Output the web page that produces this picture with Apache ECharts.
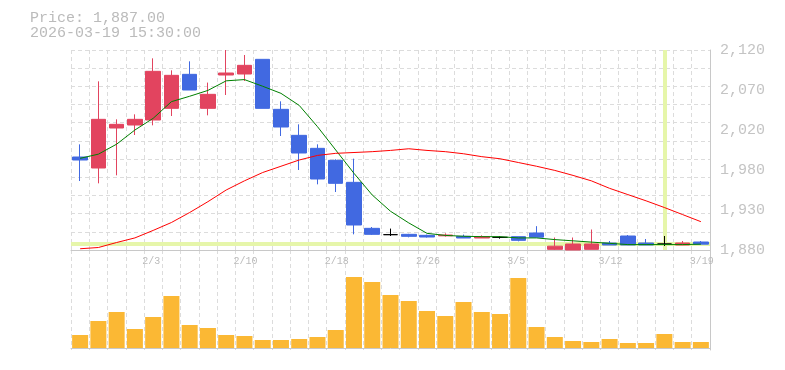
<!DOCTYPE html>
<html>
<head>
<meta charset="utf-8">
<script src="https://cdn.jsdelivr.net/npm/echarts@6/dist/echarts.min.js"></script>
<style>
html,body{margin:0;padding:0;background:#fff;}
#chart{width:785px;height:370px;}
</style>
</head>
<body>
<div id="chart"></div>
<script>
const dates = ['1/28','1/29','1/30','2/2','2/3','2/4','2/5','2/6','2/9','2/10','2/12','2/13','2/16','2/17','2/18','2/19','2/20','2/24','2/25','2/26','2/27','3/2','3/3','3/4','3/5','3/6','3/9','3/10','3/11','3/12','3/13','3/16','3/17','3/18','3/19'];
const openP  = [1991.6,1978.4,2026.4,2030,2036,2050,2090.8,2050,2090,2091.2,2108.8,2048.8,2017.6,2002,1987.6,1961.2,1906,1898.4,1898.8,1897.6,1897,1896.4,1894.4,1895.2,1896,1900.4,1880.8,1880,1880.8,1888.4,1896.8,1888.4,1887.2,1886,1889.6];
const closeP = [1988,2036.8,2030.8,2036.8,2094.4,2089.6,2072,2066.8,2092.4,2101.6,2050,2027.6,1996.4,1965.2,1960,1910,1898.8,1898.4,1896.4,1895.6,1898,1894.4,1896,1895.2,1891.6,1895.4,1884.6,1887.2,1887.2,1886,1886,1886,1887.2,1888.4,1887];
const highP  = [2006.8,2082.4,2036.8,2042.8,2110,2095.6,2106.4,2080.9,2120,2114,2108.8,2058.4,2030.8,2006.8,1988.8,1989.6,1907.6,1905.7,1899.4,1898.5,1900,1898.5,1897.6,1896.4,1896,1908.6,1895,1895,1904.6,1890.8,1898,1893.2,1896.8,1890.8,1890.8];
const lowP   = [1962.8,1960,1969.6,2018,2029.6,2040.8,2072,2041.6,2066,2082.8,2050,2016.8,1976,1958.8,1949.6,1898.8,1898,1896.8,1895.2,1895,1896,1894.4,1894.4,1893.6,1890.4,1895.4,1880,1880,1880.8,1886,1886,1886,1884.8,1886,1887];
const maShort = [1990,1995,2007,2024,2038,2058,2064.5,2071.5,2083,2084.5,2076.5,2068,2053.5,2028,2000,1972,1946,1926.5,1912.5,1900,1897.5,1896.5,1896,1896,1894.5,1894.5,1892.5,1891,1889.5,1888,1886.5,1886.5,1886.5,1886.5,1887];
const maLong  = [1881.5,1883,1889,1894.5,1903.5,1913,1925,1938,1952,1963,1973,1980.5,1988,1993.5,1996,1997,1998,1999.5,2001.5,1999.5,1998,1995.5,1992,1989.5,1985,1980.5,1975.5,1969.5,1963,1954,1946.5,1939,1931,1922.5,1914];
const volume  = [130,270,360,190,310,520,230,200,130,120,80,80,90,110,180,710,660,530,470,370,320,460,360,340,700,210,110,70,60,90,50,50,140,60,60];
const priceNow = 1887;
const markDate = '3/17';
const titleLines = ['Price: 1,887.00', '2026-03-19 15:30:00'];

const candleData = dates.map((d, i) => [openP[i], closeP[i], lowP[i], highP[i]]);

function fmtPrice(v) {
  const r = Math.round(v / 10) * 10;
  return String(r).replace(/\B(?=(\d{3})+(?!\d))/g, ',');
}

const gridLine = { show: true, lineStyle: { color: '#dcdcdc', type: [4, 3], width: 1 } };
const axisGray = '#c8c8c8';
const mono = 'Liberation Mono';

const chart = echarts.init(document.getElementById('chart'), null, { renderer: 'canvas' });
chart.setOption({
  animation: false,
  backgroundColor: '#fff',
  title: {
    text: titleLines.join('\n'),
    left: 30, top: 11, padding: 0,
    textStyle: { fontFamily: mono, fontSize: 15, fontWeight: 'normal', color: '#bbbbbb', lineHeight: 15 }
  },
  grid: [
    { left: 71, right: 75, top: 50, height: 200 },
    { left: 71, right: 75, top: 250, height: 100 }
  ],
  xAxis: [
    {
      type: 'category', gridIndex: 0, data: dates, boundaryGap: true,
      axisLine: { show: true, lineStyle: { color: axisGray } },
      axisTick: { show: false },
      splitLine: Object.assign({ interval: 0 }, gridLine),
      axisLabel: {
        interval: (idx) => idx % 5 === 4,
        fontFamily: mono, fontSize: 10, color: '#bbbbbb', margin: 6,
        align: 'left', padding: [0, 0, 0, -11]
      }
    },
    {
      type: 'category', gridIndex: 1, data: dates, boundaryGap: true,
      axisLine: { show: true, lineStyle: { color: axisGray } },
      axisTick: { show: false },
      axisLabel: { show: false },
      splitLine: Object.assign({ interval: 0 }, gridLine)
    }
  ],
  yAxis: [
    {
      type: 'value', gridIndex: 0, position: 'right', min: 1880, max: 2120, interval: 48,
      axisLine: { show: true, lineStyle: { color: axisGray } },
      axisTick: { show: false },
      splitLine: { show: false },
      axisLabel: { formatter: fmtPrice, fontFamily: mono, fontSize: 15, color: '#c4c4c4', margin: 10, padding: [4, 0, 0, 0] }
    },
    {
      type: 'value', gridIndex: 0, min: 0, max: 11, interval: 1,
      axisLine: { show: false }, axisTick: { show: false }, axisLabel: { show: false },
      splitLine: gridLine
    },
    {
      type: 'value', gridIndex: 1, position: 'right', min: -20, max: 980,
      axisLine: { show: true, lineStyle: { color: axisGray } },
      axisTick: { show: false }, axisLabel: { show: false }, splitLine: { show: false }
    }
  ],
  series: [
    {
      name: 'marks', type: 'line', xAxisIndex: 0, yAxisIndex: 0, data: [], z: 1,
      markLine: {
        z: 1, silent: true, symbol: ['none', 'none'], label: { show: false },
        lineStyle: { color: '#e6f6aa', width: 4, type: 'solid' },
        data: [ { yAxis: priceNow }, { xAxis: markDate } ]
      }
    },
    {
      name: 'candles', type: 'candlestick', xAxisIndex: 0, yAxisIndex: 0, data: candleData, z: 3,
      barWidth: 15,
      itemStyle: {
        color: '#e2445f', color0: '#4169e1',
        borderColor: '#e2445f', borderColor0: '#4169e1', borderColorDoji: '#000000', borderWidth: 1
      }
    },
    {
      name: 'maShort', type: 'line', xAxisIndex: 0, yAxisIndex: 0, data: maShort, z: 4,
      symbol: 'none', lineStyle: { color: '#008000', width: 1 }
    },
    {
      name: 'maLong', type: 'line', xAxisIndex: 0, yAxisIndex: 0, data: maLong, z: 4,
      symbol: 'none', lineStyle: { color: '#ff0000', width: 1 }
    },
    {
      name: 'volume', type: 'bar', xAxisIndex: 1, yAxisIndex: 2, data: volume,
      barWidth: 16, itemStyle: { color: '#fbb834' }
    }
  ]
});
</script>
</body>
</html>
